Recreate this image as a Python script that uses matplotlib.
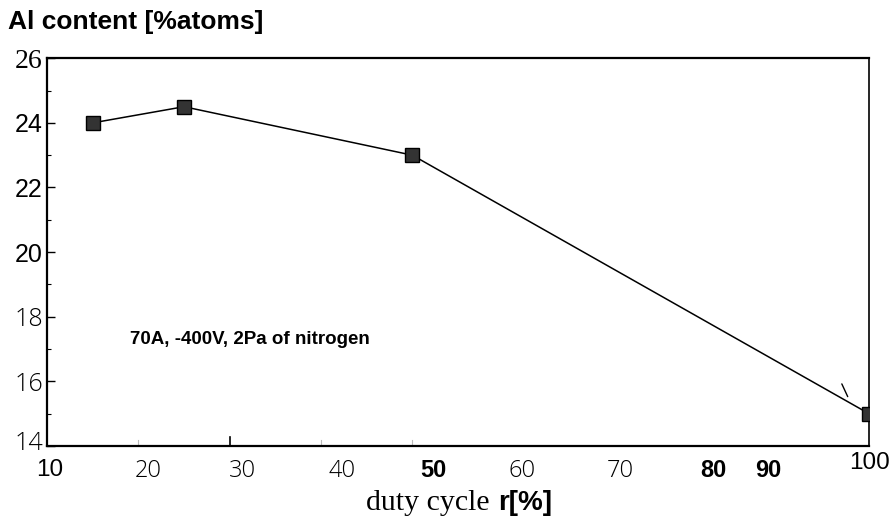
import matplotlib
matplotlib.use("Agg")
import matplotlib.pyplot as plt
from matplotlib.transforms import ScaledTranslation

# Al content vs. duty cycle
duty_cycle = [15, 25, 50, 100]
al_content = [24.0, 24.5, 23.0, 15.0]

x_ticks = [10, 20, 30, 40, 50, 60, 70, 80, 90, 100]
x_tick_labels = ["10", "20", "30", "40", "50", "60", "70", "80", "90", "100"]
y_ticks = [14, 16, 18, 20, 22, 24, 26]
y_tick_labels = ["14", "16", "18", "20", "22", "24", "26"]

fig = plt.figure(figsize=(8.94, 5.2), dpi=100)
ax = fig.add_axes([0.0526, 0.1423, 0.9194, 0.7457])

ax.plot(duty_cycle, al_content, color="black", lw=1.1, zorder=2)
ax.plot(duty_cycle, al_content, ls="none", marker="s", markersize=10,
        markerfacecolor="#333333", markeredgecolor="black",
        markeredgewidth=1.0, zorder=3)

ax.set_xlim(10, 100)
ax.set_ylim(14, 26)

for side in ["left", "bottom", "top"]:
    ax.spines[side].set_linewidth(1.6)
ax.spines["right"].set_linewidth(1.2)

ax.set_xticks(x_ticks)
ax.set_xticklabels(x_tick_labels)
ax.set_yticks(y_ticks)
ax.set_yticklabels(y_tick_labels)
ax.set_yticks([15, 17, 19, 21, 23, 25], minor=True)

ax.tick_params(axis="y", which="major", direction="in", length=6, width=1.0,
               pad=3)
ax.tick_params(axis="y", which="minor", direction="in", length=3, width=0.8)
ax.tick_params(axis="x", which="major", direction="in", length=0, pad=9)

# y tick label fonts
y_styles = {
    "14": dict(family="Open Sans", weight="light", size=18),
    "16": dict(family="Open Sans", weight="light", size=18),
    "18": dict(family="Open Sans", weight="light", size=18),
    "20": dict(family="Liberation Sans", weight="normal", size=18),
    "22": dict(family="Liberation Sans", weight="normal", size=18),
    "24": dict(family="Liberation Sans", weight="normal", size=18),
    "26": dict(family="Liberation Serif", weight="normal", size=20),
}
for lab in ax.get_yticklabels():
    st = y_styles[lab.get_text()]
    lab.set_fontfamily(st["family"])
    lab.set_fontweight(st["weight"])
    lab.set_fontsize(st["size"])
    if lab.get_text() == "14":
        lab.set_transform(lab.get_transform()
                          + ScaledTranslation(0, 6 / 100, fig.dpi_scale_trans))

# x tick label fonts and nudges (pixels)
x_nudge = [3, 10, 13, 21, 21, 18, 25, 27, -9, 1]
x_fonts = ["Liberation Sans", "Open Sans", "Open Sans", "Open Sans",
           "Liberation Sans", "Open Sans", "Open Sans", "Liberation Sans",
           "Liberation Sans", "Liberation Sans"]
x_weights = ["normal", "light", "light", "light", "bold", "light", "light",
             "bold", "bold", "normal"]
x_sizes = [17.5, 17, 17, 17, 17, 17, 17, 17, 17, 17.5]
for lab, dx, fam, wt, sz in zip(ax.get_xticklabels(), x_nudge, x_fonts,
                                x_weights, x_sizes):
    lab.set_fontfamily(fam)
    lab.set_fontweight(wt)
    lab.set_fontsize(sz)
    dy = 7 if lab.get_text() == "100" else 0
    lab.set_transform(lab.get_transform()
                      + ScaledTranslation(dx / 100, dy / 100,
                                          fig.dpi_scale_trans))

# faint inner ticks along the bottom axis
for xv in [20, 40, 50]:
    ax.plot([xv, xv], [14, 14.2], color="#bbbbbb", lw=0.8, zorder=1)
ax.plot([30, 30], [14, 14.28], color="black", lw=1.2, zorder=1)

# title and axis label
fig.text(0.009, 0.958, "Al content [%atoms]", ha="left", va="center",
         fontfamily="Liberation Sans", fontweight="bold", fontsize=19)
fig.text(0.548, 0.02, "duty cycle", ha="right", va="baseline",
         fontfamily="Liberation Serif", fontsize=21.5)
fig.text(0.557, 0.02, "r[%]", ha="left", va="baseline",
         fontfamily="Liberation Sans", fontweight="bold", fontsize=20)

ax.text(0.101, 0.275, "70A, -400V, 2Pa of nitrogen", transform=ax.transAxes,
        ha="left", va="center", fontfamily="Liberation Sans",
        fontweight="bold", fontsize=13.5)

# small leader stroke near the last point
ax.annotate("", xy=(duty_cycle[-1] - 2.2, al_content[-1] + 0.45),
            xytext=(duty_cycle[-1] - 3.1, al_content[-1] + 1.0),
            arrowprops=dict(arrowstyle="-", color="black", lw=1.0))

fig.savefig("out.png", dpi=100)
